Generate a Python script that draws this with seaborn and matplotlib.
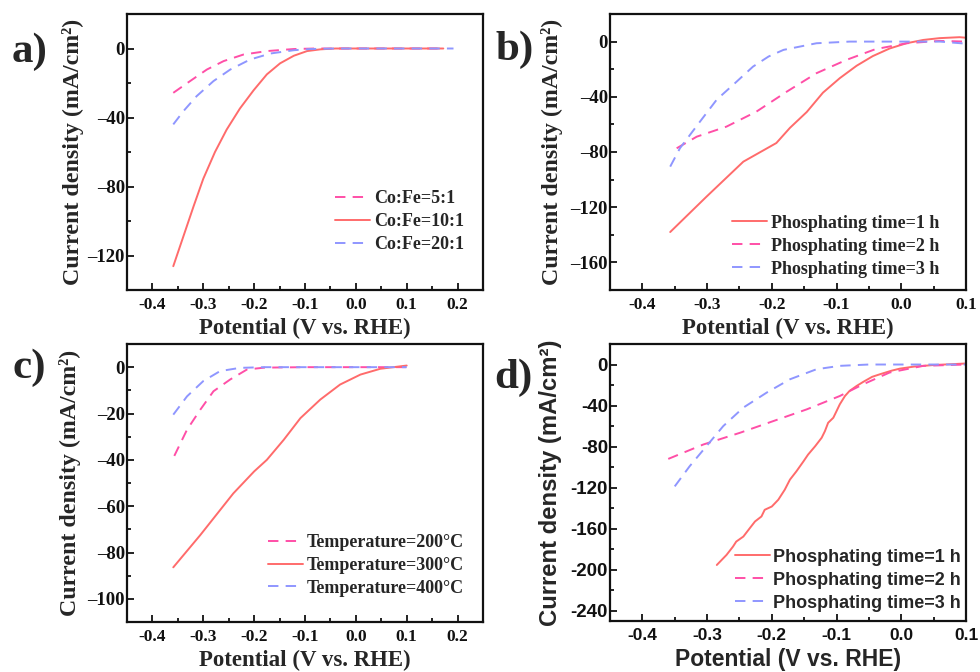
import matplotlib
matplotlib.use("Agg")
import matplotlib.pyplot as plt
from matplotlib.ticker import MultipleLocator, AutoMinorLocator
import seaborn as sns
import pandas as pd

sns.set_style("ticks")

# ---------------- data: polarisation curves (potential V vs. RHE, current mA/cm2)
# a) Co:Fe ratio
a_51_v = [-0.359, -0.326, -0.293, -0.26, -0.221, -0.175, -0.122, -0.08, 0.0, 0.10, 0.172]
a_51_j = [-25.7, -18.9, -12.2, -7.3, -3.5, -1.5, -0.3, 0.0, 0.0, 0.0, 0.0]
a_101_v = [-0.359, -0.339, -0.319, -0.300, -0.277, -0.254, -0.228, -0.201, -0.175, -0.149,
           -0.122, -0.096, -0.070, -0.04, 0.0, 0.10, 0.172]
a_101_j = [-126.2, -108.8, -91.4, -75.5, -60.0, -47.0, -34.8, -24.2, -15.0, -8.6,
           -4.2, -1.5, -0.5, 0.0, 0.0, 0.0, 0.0]
a_201_v = [-0.359, -0.339, -0.313, -0.280, -0.247, -0.208, -0.168, -0.122, -0.09, -0.04, 0.0, 0.10, 0.192]
a_201_j = [-44.0, -36.3, -27.6, -18.9, -12.2, -6.4, -2.9, -1.0, -0.3, 0.0, 0.0, 0.0, 0.0]

# b) phosphating time
b_1h_v = [-0.357, -0.301, -0.244, -0.193, -0.172, -0.146, -0.121, -0.095, -0.069, -0.044, -0.018, 0.008, 0.034, 0.059, 0.09, 0.10]
b_1h_j = [-138.0, -112.4, -87.0, -73.5, -62.5, -51.0, -37.0, -26.5, -17.5, -10.5, -5.0, -1.2, 1.2, 2.5, 3.2, 2.8]
b_2h_v = [-0.347, -0.316, -0.27, -0.224, -0.177, -0.131, -0.085, -0.04, 0.008, 0.059, 0.10]
b_2h_j = [-77.3, -68.9, -61.6, -50.8, -36.3, -22.9, -13.3, -5.5, -1.2, 0.5, 0.0]
b_3h_v = [-0.357, -0.342, -0.311, -0.285, -0.259, -0.229, -0.205, -0.182, -0.131, -0.08, 0.0, 0.06, 0.10]
b_3h_j = [-90.6, -77.3, -58.0, -42.0, -31.0, -18.1, -10.8, -6.0, -1.2, 0.0, 0.0, 0.0, -1.5]

# c) phosphating temperature
c_200_v = [-0.357, -0.332, -0.306, -0.28, -0.247, -0.214, -0.18, -0.10, 0.0, 0.10]
c_200_j = [-38.3, -27.0, -18.4, -10.4, -5.3, -1.0, -0.2, 0.0, 0.0, 0.0]
c_300_v = [-0.359, -0.306, -0.241, -0.200, -0.175, -0.142, -0.109, -0.07, -0.031, 0.009, 0.048, 0.10]
c_300_j = [-86.4, -72.5, -54.5, -45.0, -40.0, -31.4, -22.0, -14.0, -7.5, -3.2, -0.7, 0.7]
c_400_v = [-0.359, -0.332, -0.300, -0.267, -0.228, -0.18, -0.10, 0.0, 0.10]
c_400_j = [-20.5, -12.6, -6.0, -1.7, -0.3, 0.0, 0.0, 0.0, 0.0]

# d) phosphating time (second batch)
d_1h_v = [-0.285, -0.270, -0.260, -0.255, -0.244, -0.234, -0.226, -0.216, -0.211, -0.200,
          -0.190, -0.180, -0.172, -0.162, -0.151, -0.144, -0.133, -0.123, -0.118, -0.113,
          -0.105, -0.100, -0.095, -0.087, -0.080, -0.069, -0.059, -0.045, -0.033, -0.015,
          -0.002, 0.020, 0.050, 0.100]
d_1h_j = [-195.4, -185.6, -177.5, -172.6, -167.7, -159.5, -153.0, -148.1, -141.6, -138.4,
          -131.8, -122.0, -112.2, -104.1, -94.3, -87.8, -79.6, -71.4, -65.0, -56.8,
          -51.9, -45.4, -38.8, -30.7, -25.8, -20.9, -17.0, -12.0, -9.5, -6.0,
          -4.0, -2.0, -0.5, 1.0]
d_2h_v = [-0.360, -0.306, -0.249, -0.198, -0.146, -0.095, -0.059, -0.018, 0.034, 0.100]
d_2h_j = [-92.0, -78.0, -66.5, -55.2, -43.7, -30.7, -19.3, -7.8, -1.3, 0.0]
d_3h_v = [-0.350, -0.327, -0.301, -0.275, -0.244, -0.208, -0.172, -0.131, -0.095, -0.05, 0.0, 0.10]
d_3h_j = [-118.8, -99.2, -79.6, -60.0, -42.0, -27.4, -14.4, -4.6, -1.3, 0.0, 0.0, 0.0]

labels_a = ["Co:Fe=5:1", "Co:Fe=10:1", "Co:Fe=20:1"]
labels_b = ["Phosphating time=1 h", "Phosphating time=2 h", "Phosphating time=3 h"]
labels_c = ["Temperature=200\u00b0C", "Temperature=300\u00b0C", "Temperature=400\u00b0C"]

PINK = "#FF4FA7"
RED = "#FF6B6B"
BLUE = "#8F96FF"
LW = 1.4
SOLID = "-"
DASH = (0, (7.5 / LW, 5.2 / LW))

W, H = 980, 672
fig = plt.figure(figsize=(W / 100, H / 100), dpi=100)


def px_axes(left, top, right, bottom):
    return fig.add_axes([left / W, 1 - bottom / H, (right - left) / W, (bottom - top) / H])


def style_axes(ax, family, xlim, ylim, xmajor, ymajor, yminus, ysize, ylabelpad):
    ax.set_xlim(*xlim)
    ax.set_ylim(*ylim)
    ax.xaxis.set_major_locator(MultipleLocator(xmajor))
    ax.xaxis.set_minor_locator(AutoMinorLocator(2))
    ax.yaxis.set_major_locator(MultipleLocator(ymajor))
    ax.yaxis.set_minor_locator(AutoMinorLocator(2))
    ax.xaxis.set_major_formatter(plt.FuncFormatter(lambda v, p: f"{v:.1f}"))
    ax.yaxis.set_major_formatter(
        plt.FuncFormatter(lambda v, p: f"{v:.0f}".replace("-", yminus)))
    ax.tick_params(which="both", direction="in", top=False, right=False, width=1.3,
                   colors="#111111")
    ax.tick_params(which="major", length=5)
    ax.tick_params(axis="x", which="major", pad=5, labelsize=12.5)
    ax.tick_params(axis="y", which="major", pad=1.5, labelsize=ysize)
    ax.tick_params(which="minor", length=3)
    for lab in ax.get_xticklabels() + ax.get_yticklabels():
        lab.set_fontfamily(family)
        lab.set_fontweight("bold")
    for s in ax.spines.values():
        s.set_visible(True)
        s.set_linewidth(1.6)
        s.set_color("#111111")
    ax.set_xlabel("Potential (V vs. RHE)", fontsize=16.5, fontweight="bold",
                  family=family, labelpad=3.5)
    ax.set_ylabel("Current density (mA/cm\u00b2)", fontsize=17.2, fontweight="bold",
                  family=family, labelpad=ylabelpad)


def draw(ax, series, family, leg_anchor):
    for v, j, c, ls, lab in series:
        df = pd.DataFrame({"v": v, "j": j})
        sns.lineplot(data=df, x="v", y="j", ax=ax, color=c, linestyle=ls, linewidth=LW,
                     label=lab, sort=False, estimator=None)
    ax.legend(loc="upper left", bbox_to_anchor=leg_anchor, frameon=False,
              borderaxespad=0, borderpad=0, handlelength=1.95, handletextpad=0.18,
              labelspacing=0.33, prop={"family": family, "weight": "bold", "size": 13})


SERIF = "Liberation Serif"
SANS = "Liberation Sans"
EN = "\u2013"

ax_a = px_axes(127, 14, 483, 290)
draw(ax_a, [(a_51_v, a_51_j, PINK, DASH, labels_a[0]),
            (a_101_v, a_101_j, RED, SOLID, labels_a[1]),
            (a_201_v, a_201_j, BLUE, DASH, labels_a[2])], SERIF, (0.585, 0.362))
style_axes(ax_a, SERIF, (-0.45, 0.25), (-140, 20), 0.1, 40, EN, 13.5, 2.5)

ax_b = px_axes(610, 14, 966, 290)
draw(ax_b, [(b_1h_v, b_1h_j, RED, SOLID, labels_b[0]),
            (b_2h_v, b_2h_j, PINK, DASH, labels_b[1]),
            (b_3h_v, b_3h_j, BLUE, DASH, labels_b[2])], SERIF, (0.343, 0.273))
style_axes(ax_b, SERIF, (-0.45, 0.10), (-180, 20), 0.1, 40, EN, 13.5, 5.5)

ax_c = px_axes(127, 344, 483, 622)
draw(ax_c, [(c_200_v, c_200_j, PINK, DASH, labels_c[0]),
            (c_300_v, c_300_j, RED, SOLID, labels_c[1]),
            (c_400_v, c_400_j, BLUE, DASH, labels_c[2])], SERIF, (0.396, 0.317))
style_axes(ax_c, SERIF, (-0.45, 0.25), (-110, 10), 0.1, 20, EN, 13.5, 4.5)

ax_d = px_axes(610, 344, 966, 621)
draw(ax_d, [(d_1h_v, d_1h_j, RED, SOLID, labels_b[0]),
            (d_2h_v, d_2h_j, PINK, DASH, labels_b[1]),
            (d_3h_v, d_3h_j, BLUE, DASH, labels_b[2])], SANS, (0.351, 0.261))
style_axes(ax_d, SANS, (-0.45, 0.10), (-250, 20), 0.1, 40, "-", 13.5, 6.5)

# panel letters
for txt, x, y in [("a)", 12, 62), ("b)", 496, 60), ("c)", 12, 378), ("d)", 494, 388)]:
    fig.text(x / W, 1 - y / H, txt, fontsize=31, fontweight="bold", family=SERIF,
             ha="left", va="baseline")

fig.savefig("out.png", dpi=100)
